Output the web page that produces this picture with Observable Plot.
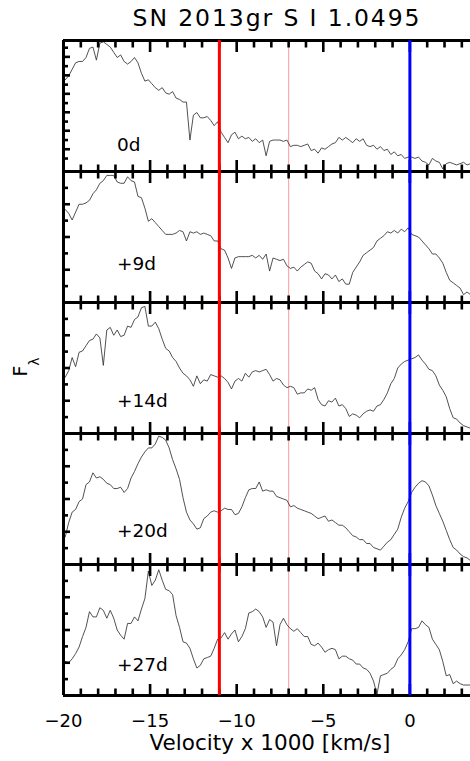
<!DOCTYPE html>
<html>
<head>
<meta charset="utf-8">
<script src="https://cdn.jsdelivr.net/npm/d3@7"></script>
<script src="https://cdn.jsdelivr.net/npm/@observablehq/plot@0.6"></script>
<style>
  body { margin: 0; background: #fff; }
  #wrap { position: relative; width: 470px; height: 761px; overflow: hidden; font-family: "DejaVu Sans", sans-serif; color: #000; }
  #chart { position: absolute; left: 0; top: 0; }
  #title { position: absolute; left: 77px; width: 400px; top: 7px; text-align: center; font-size: 23.5px; line-height: 23.5px; letter-spacing: 1.9px; white-space: nowrap; }
  #xlabel { position: absolute; left: 70px; width: 400px; top: 732px; text-align: center; font-size: 21.5px; line-height: 21.5px; white-space: nowrap; }
  #ylabel { position: absolute; left: 20.5px; top: 367px; transform: translate(-50%, -50%) rotate(-90deg); font-size: 19px; line-height: 19px; white-space: nowrap; }
  #ylabel .sub { font-size: 14px; position: relative; top: 12px; }
</style>
</head>
<body>
<div id="wrap">
  <div id="chart"></div>
  <div id="title">SN 2013gr S I 1.0495</div>
  <div id="xlabel">Velocity x 1000 [km/s]</div>
  <div id="ylabel">F<span class="sub">λ</span></div>
</div>
<script>
// ---- data ----
const epochs = ["0d", "+9d", "+14d", "+20d", "+27d"];
// sampling grid of the spectra (velocity x 1000 km/s), every 0.2 from -19.9 to 3.5
const velocity = d3.range(118).map(i => +(-19.9 + 0.2 * i).toFixed(1));
// relative flux per epoch (arbitrary units, 0-100 per panel)
const flux0d = [70,73,78,83,84,84,87,94,95,85, 98,99,97,95,91,87,89,84,82,84, 87,83,75,69,70,67,64,62,64,60,
  59,61,56,55,53,53,24,43,45,41, 41,42,39,35,38,30,26,22,28,30, 25,27,25,26,23,25,22,24,12,23,
  24,24,24,23,24,19,20,20,19,20, 21,16,17,14,18,17,19,21,22,26, 24,26,24,22,25,23,25,20,19,20,
  17,19,16,17,13,15,12,13,10,11, 11,10,11,8,7,5,10,8,7,2, 6,7,6,5,6,7,5,6];
const flux9d = [71,68,63,69,75,75,76,78,83,86, 91,93,97,97,97,92,91,91,96,93, 92,81,80,72,62,64,61,58,55,52,
  52,52,53,55,54,47,54,53,54,52, 53,52,51,47,47,41,40,34,26,34, 35,35,35,35,36,34,36,33,37,24,
  34,33,32,33,28,26,27,24,27,29, 31,30,24,22,18,22,21,18,21,16, 18,14,14,23,27,31,36,38,40,42,
  47,49,51,54,53,55,53,56,54,57, 52,51,50,47,44,41,37,37,34,30, 23,17,15,13,11,6,8,6];
const flux14d = [43,48,58,51,62,63,67,71,72,76, 73,52,79,81,75,79,74,75,82,81, 87,89,96,97,82,82,85,80,72,65,
  63,58,55,50,46,44,41,36,44,38, 41,40,45,44,43,44,42,39,34,40, 42,40,46,43,47,48,47,48,49,45,
  40,42,41,37,35,36,35,30,31,31, 34,33,35,26,22,21,25,24,27,21, 22,19,13,15,14,12,15,17,18,17,
  21,22,26,31,38,42,50,53,55,56, 57,58,60,56,53,49,48,44,37,33, 28,19,12,11,8,6,5,4];
const flux20d = [21,32,40,42,48,50,61,63,70,66, 67,65,62,61,58,58,59,55,58,66, 71,77,82,86,89,89,92,98,97,95,
  89,80,73,65,51,40,34,31,27,28, 35,37,40,41,40,41,43,42,42,38, 39,44,51,57,58,58,63,56,57,56,
  56,52,51,50,49,44,45,43,42,41, 40,39,37,35,36,37,33,34,32,30, 30,28,25,22,21,19,19,16,16,13,
  12,11,14,17,19,23,27,36,43,48, 55,59,62,64,63,60,53,45,39,33, 26,19,13,11,8,6,5,3];
const flux27d = [26,25,28,32,37,45,52,64,60,60, 67,65,59,65,59,50,46,43,55,55, 60,57,66,74,95,84,88,96,88,81,
  80,77,61,52,41,40,36,28,21,23, 28,29,30,36,43,44,48,43,47,50, 41,45,51,63,64,66,64,60,52,58,
  56,38,54,59,54,51,49,51,48,45, 45,39,38,40,37,33,35,36,35,28, 30,30,28,27,24,24,21,20,17,11,
  1,15,16,17,20,22,28,31,35,41, 51,51,52,57,54,52,43,39,35,26, 15,16,9,11,9,8,8,8];
const fluxes = [flux0d, flux9d, flux14d, flux20d, flux27d];

// reference velocities (x 1000 km/s)
const lineRed = [-11];
const linePink = [-7];
const lineBlue = [0];

// tick values
const xMajorTicks = [-20, -15, -10, -5, 0];
const xMinorTicks = [-19,-18,-17,-16,-14,-13,-12,-11,-9,-8,-7,-6,-4,-3,-2,-1,1,2,3];
const yTicksFirst = [9.9, 17, 24, 31.1, 38.1, 45.2, 52.2, 59.3, 66.3, 73.4, 80.4, 87.5, 94.5];
const yTicksOther = [12.5, 25, 37.5, 50, 62.5, 75, 87.5];

// ---- tables ----
const rows = [];
epochs.forEach((e, j) => fluxes[j].forEach((f, i) => rows.push({epoch: e, v: velocity[i], f})));
const yTickRows = [];
epochs.forEach((e, j) => (j === 0 ? yTicksFirst : yTicksOther)
  .forEach((y, i) => yTickRows.push({epoch: e, y, long: i % 2 === 1})));

const W = 470, ML = 63, MR = 0;
const noText = () => "";
const minus = d => (d < 0 ? "\u2212" + Math.abs(d) : String(d));
const tickStyle = {stroke: "#000", strokeWidth: 2.6, tickFormat: noText, label: null, facetAnchor: null};
const labelOffsets = {"0d": -20.5, "+9d": -33, "+14d": -27, "+20d": -28, "+27d": -25};

const chart = Plot.plot({
  width: W,
  height: 761,
  marginTop: 38,
  marginBottom: 64,
  marginLeft: ML,
  marginRight: MR,
  style: {fontFamily: "DejaVu Sans, sans-serif", fontSize: "18px", color: "#000", background: "#fff", overflow: "visible"},
  x: {domain: [-20, 3.5]},
  y: {domain: [0, 100], axis: null},
  fy: {domain: epochs, padding: 0, axis: null},
  marks: [
    Plot.ruleX(linePink, {x: d => d, stroke: "#ff9c9c", strokeWidth: 1}),
    Plot.line(rows, {x: "v", y: "f", fy: "epoch", stroke: "#333", strokeWidth: 0.85}),
    Plot.ruleY([0, 100], {y: d => d, stroke: "#000", strokeWidth: 3}),
    Plot.ruleX([-20], {x: d => d, stroke: "#000", strokeWidth: 3}),
    Plot.axisX({anchor: "top", ticks: xMinorTicks, tickSize: 6.5, dy: 6.5, ...tickStyle}),
    Plot.axisX({anchor: "top", ticks: xMajorTicks, tickSize: 11, dy: 11, ...tickStyle}),
    Plot.axisX({anchor: "bottom", ticks: xMinorTicks, tickSize: 6.5, dy: -6.5, ...tickStyle}),
    Plot.axisX({anchor: "bottom", ticks: xMajorTicks, tickSize: 11, dy: -11, ...tickStyle}),
    Plot.tickY(yTickRows.filter(d => !d.long), {y: "y", fy: "epoch", stroke: "#000", strokeWidth: 2.6, insetRight: W - ML - MR - 5}),
    Plot.tickY(yTickRows.filter(d => d.long), {y: "y", fy: "epoch", stroke: "#000", strokeWidth: 2.6, insetRight: W - ML - MR - 7}),
    Plot.axisX({anchor: "bottom", ticks: xMajorTicks, tickSize: 0, tickPadding: 19, tickFormat: minus, label: null, fontSize: 18}),
    Plot.ruleX(lineRed, {x: d => d, stroke: "#ff0000", strokeWidth: 3}),
    Plot.ruleX(lineBlue, {x: d => d, stroke: "#0000ff", strokeWidth: 3}),
    ...epochs.map(e => Plot.text([e], {
      fy: d => d, text: d => d, frameAnchor: "bottom-left", textAnchor: "start", lineAnchor: "bottom",
      dx: 53.5, dy: labelOffsets[e], fontSize: 18.5, fill: "#000"
    }))
  ]
});
document.getElementById("chart").appendChild(chart);
</script>
</body>
</html>
